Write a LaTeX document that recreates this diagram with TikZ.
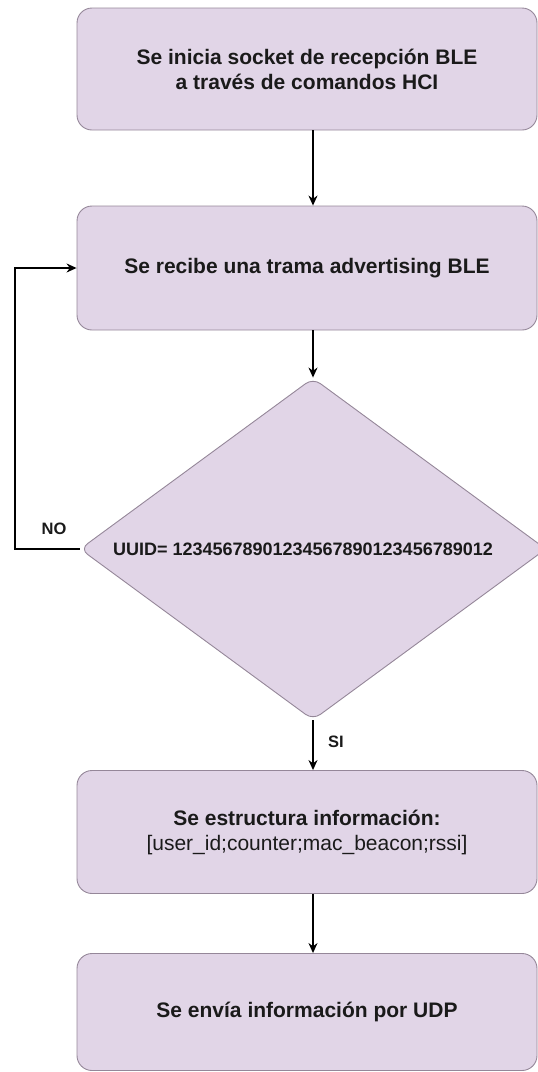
\documentclass[tikz,border=0pt]{standalone}
\usepackage{fontspec}
\setmainfont{Liberation Sans}
\usetikzlibrary{shapes.geometric,arrows.meta}
\definecolor{procfill}{HTML}{E1D5E7}
\definecolor{procline}{HTML}{958799}
\definecolor{inktext}{HTML}{1A1A1A}
\begin{document}
\begin{tikzpicture}[x=1pt,y=-1pt,
  procbox/.style={draw=procline, fill=procfill, line width=0.9pt,
    rounded corners=15pt, minimum width=460pt, inner sep=0pt,
    align=center, text=inktext, font=\fontsize{21}{25}\selectfont\bfseries},
  decide/.style={draw=procline, fill=procfill, line width=0.9pt,
    diamond, aspect=1.36, rounded corners=9pt, minimum width=466pt, minimum height=342pt,
    inner sep=0pt, text=inktext, font=\fontsize{18}{22}\selectfont\bfseries},
  flow/.style={draw=black, line width=1.3pt, -{Stealth[length=10pt,width=9pt]}},
  tag/.style={text=inktext, font=\fontsize{16.5}{20}\selectfont\bfseries, inner sep=0pt}]
\useasboundingbox (0,0) rectangle (538,1072);
\clip (0,0) rectangle (538,1072);

\node[procbox, minimum height=122pt] (init) at (307,69)
  {Se inicia socket de recepción BLE\\a través de comandos HCI};
\node[procbox, minimum height=124pt] (recv) at (307,268)
  {Se recibe una trama advertising BLE};
\node[decide] (uuid) at (313,549)
  {\hspace*{-20pt}UUID= 12345678901234567890123456789012};
\node[procbox, minimum height=123pt] (pack) at (307,832)
  {Se estructura información:\\\mdseries [user\_id;counter;mac\_beacon;rssi]};
\node[procbox, minimum height=117pt] (send) at (307,1012)
  {Se envía información por UDP};

\draw[flow] ([xshift=6pt]init.south) -- ([xshift=6pt]recv.north);
\draw[flow] ([xshift=6pt]recv.south) -- (uuid.north);
\draw[flow] (uuid.south) -- ([xshift=6pt]pack.north);
\draw[flow] ([xshift=6pt]pack.south) -- ([xshift=6pt]send.north);

\coordinate (loopdown) at (15,549);
\coordinate (loopup) at (15,268);
\draw[flow] (uuid.west) -- (loopdown) -- (loopup) -- (recv.west);

\node[tag] (no) at (54,529) {NO};
\node[tag] (si) at (336,742) {SI};
\end{tikzpicture}
\end{document}
